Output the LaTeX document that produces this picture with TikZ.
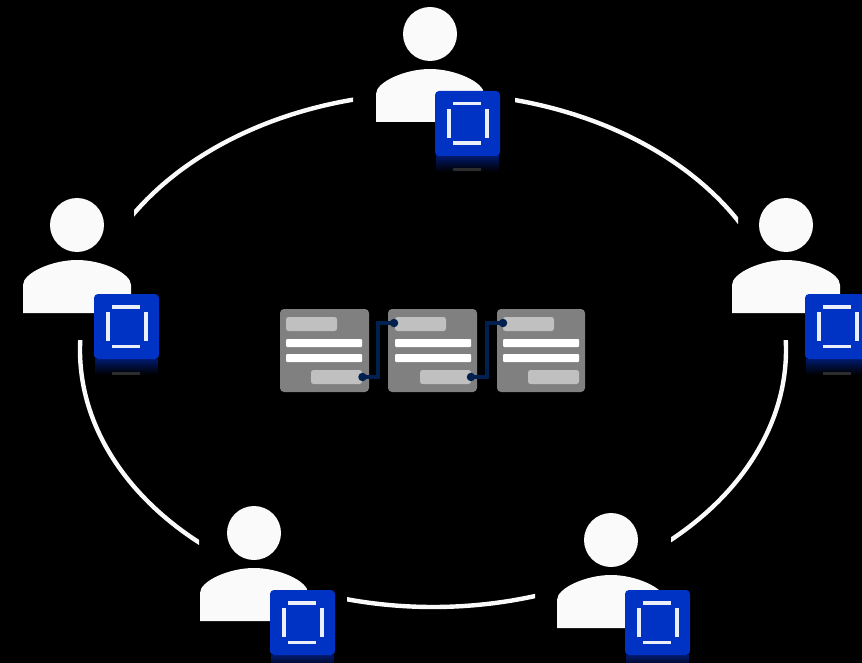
\documentclass[tikz,border=0pt]{standalone}
\usetikzlibrary{calc}
\definecolor{cardgrey}{HTML}{808080}
\definecolor{chipgrey}{HTML}{C0C0C0}
\definecolor{barwhite}{HTML}{FFFFFF}
\definecolor{personwhite}{HTML}{FAFAFA}
\definecolor{badgeblue}{HTML}{0033C4}
\definecolor{reflblue}{HTML}{001A6E}
\definecolor{smudge}{HTML}{2C2C2C}
\definecolor{linknavy}{HTML}{00214F}
\tikzset{
  ringarc/.style={draw=personwhite,line width=4.4pt,line cap=butt},
  card/.style={fill=cardgrey,rounded corners=4pt,inner sep=0pt,outer sep=0pt,minimum width=#1,minimum height=83pt},
  chip/.style={fill=chipgrey,rounded corners=2.5pt,inner sep=0pt,outer sep=0pt,minimum width=51pt,minimum height=14pt},
  bar/.style={fill=barwhite,rounded corners=1pt,inner sep=0pt,outer sep=0pt,minimum width=76pt,minimum height=8pt},
  linkdot/.style={circle,fill=linknavy,inner sep=0pt,outer sep=0pt,minimum size=8.5pt},
  linkline/.style={draw=linknavy,line width=3.5pt},
  personfill/.style={fill=personwhite},
  badge/.style={fill=badgeblue,rounded corners=4pt},
  badgemark/.style={fill=barwhite!92!badgeblue}
}
% #1,#2 head centre; #3,#4 badge top-left
\newcommand{\userfig}[4]{
  \begin{scope}[shift={(#1,#2)}]
    \fill[personfill] (0,0) circle[radius=27];
    \fill[personfill] (-54,88) -- (-54,60) .. controls (-54,48) and (-25,35) .. (0,35)
      .. controls (25,35) and (54,48) .. (54,60) -- (54,88) -- cycle;
  \end{scope}
  \begin{scope}[shift={(#3,#4)}]
    \shade[top color=reflblue,bottom color=black,middle color=reflblue!45!black] (1,65) rectangle (64,81);
    \fill[smudge] (18,77.5) rectangle (46,80.5);
    \fill[badge] (0,0) rectangle (65,65);
    \fill[badgemark] (18,11) rectangle (46,14.5);
    \fill[badgemark] (18,50.5) rectangle (46,54);
    \fill[badgemark] (11.5,18) rectangle (15.5,47);
    \fill[badgemark] (49.5,18) rectangle (53.5,47);
  \end{scope}
}
\begin{document}
\begin{tikzpicture}[x=1pt,y=-1pt]
\path[fill=black] (0,0) rectangle (862,663);
\useasboundingbox (0,0) rectangle (862,663);
\clip (0,0) rectangle (862,663);
% ring: each arc is cut square by its own window
\coordinate (ring) at (433,350);
\foreach \a/\b/\xa/\ya/\xb/\yb in {
  262/205/134/80/353/260,
  278/335/515/80/738/260,
  352/52/671/340/800/560,
  68/110/347/580/535/620,
  126/188/60/340/199/560}{
  \begin{scope}
    \clip (\xa,\ya) rectangle (\xb,\yb);
    \ifnum\a=352
      \draw[ringarc] ($(ring)+(-8:353 and 257)$) arc[x radius=353,y radius=257,start angle=-8,end angle=\b];
    \else
      \draw[ringarc] ($(ring)+(\a:353 and 257)$) arc[x radius=353,y radius=257,start angle=\a,end angle=\b];
    \fi
  \end{scope}
}
% cards
\node[card=89pt] (c1) at (324.5,350.5) {};
\node[card=89pt] (c2) at (432.5,350.5) {};
\node[card=88pt] (c3) at (541,350.5) {};
\node[chip] (c1a) at (311.5,324) {};
\node[bar]  (c1b) at (324,343) {};
\node[bar]  (c1c) at (324,358) {};
\node[chip] (c1d) at (336.5,377) {};
\node[chip] (c2a) at (420.5,324) {};
\node[bar]  (c2b) at (433,343) {};
\node[bar]  (c2c) at (433,358) {};
\node[chip] (c2d) at (445.5,377) {};
\node[chip] (c3a) at (528.5,324) {};
\node[bar]  (c3b) at (541,343) {};
\node[bar]  (c3c) at (541,358) {};
\node[chip] (c3d) at (553.5,377) {};
% links
\node[linkdot] (d1) at (362.5,377) {};
\node[linkdot] (d2) at (394,323) {};
\node[linkdot] (d3) at (471,377) {};
\node[linkdot] (d4) at (503,323) {};
\coordinate (b1) at (378,350);
\coordinate (b2) at (487,350);
\draw[linkline] (d1.center) -- (d1.center -| b1) -- (d2.center -| b1) -- (d2.center);
\draw[linkline] (d3.center) -- (d3.center -| b2) -- (d4.center -| b2) -- (d4.center);
% people
\userfig{430}{34}{435}{91}
\userfig{77}{225}{94}{294}
\userfig{786}{225}{805}{294}
\userfig{254}{533}{270}{590}
\userfig{611}{540}{625}{590}
\end{tikzpicture}
\end{document}
